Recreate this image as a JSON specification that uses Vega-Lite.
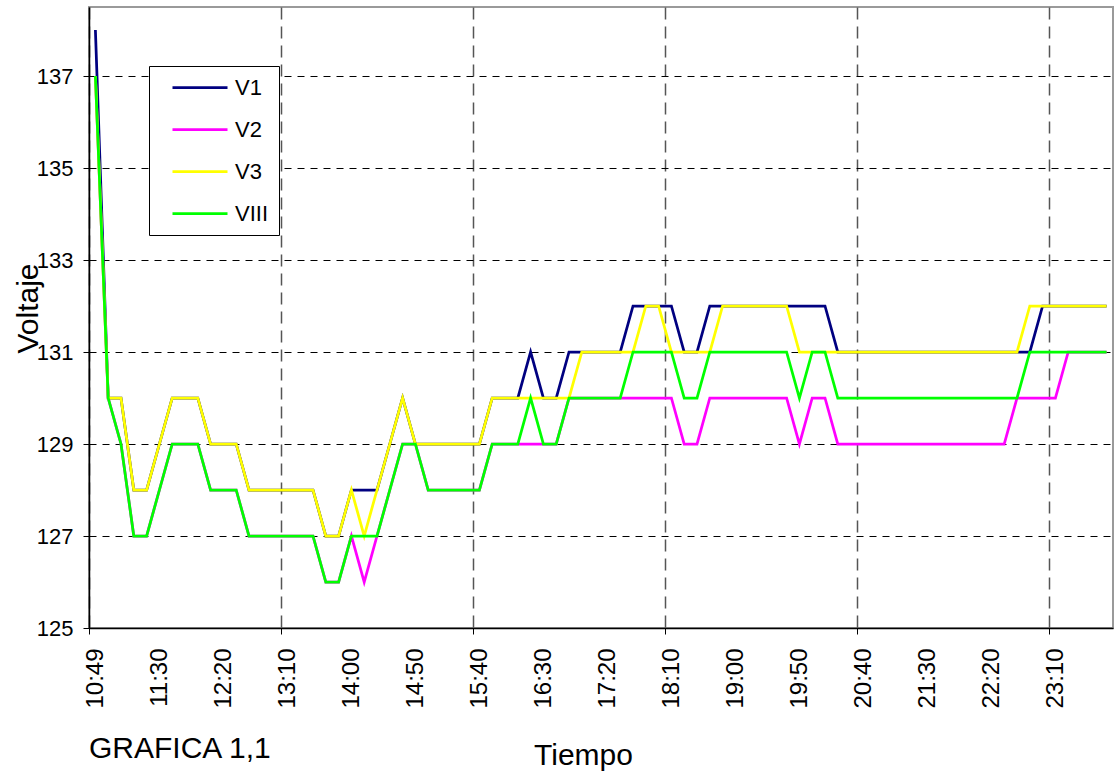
{
  "$schema": "https://vega.github.io/schema/vega-lite/v6.json",
  "width": 1024,
  "height": 621,
  "autosize": {"type": "none"},
  "padding": {"left": 89, "top": 7, "right": 2, "bottom": 152},
  "background": "white",
  "config": {"font": "Liberation Sans", "view": {"stroke": "#9a9a9a", "strokeWidth": 2}},
  "title": {"text": "GRAFICA 1,1", "orient": "bottom", "anchor": "start", "frame": "group", "fontSize": 30, "fontWeight": "normal", "color": "black", "font": "Liberation Sans", "offset": 0, "dy": -36},
  "data": {"values": [
    {"i":0,"hora":"10:49","V1":138,"V2":137,"V3":137,"VIII":137},
    {"i":1,"hora":"10:50","V1":130,"V2":130,"V3":130,"VIII":130},
    {"i":2,"hora":"11:00","V1":130,"V2":129,"V3":130,"VIII":129},
    {"i":3,"hora":"11:10","V1":128,"V2":127,"V3":128,"VIII":127},
    {"i":4,"hora":"11:20","V1":128,"V2":127,"V3":128,"VIII":127},
    {"i":5,"hora":"11:30","V1":129,"V2":128,"V3":129,"VIII":128},
    {"i":6,"hora":"11:40","V1":130,"V2":129,"V3":130,"VIII":129},
    {"i":7,"hora":"11:50","V1":130,"V2":129,"V3":130,"VIII":129},
    {"i":8,"hora":"12:00","V1":130,"V2":129,"V3":130,"VIII":129},
    {"i":9,"hora":"12:10","V1":129,"V2":128,"V3":129,"VIII":128},
    {"i":10,"hora":"12:20","V1":129,"V2":128,"V3":129,"VIII":128},
    {"i":11,"hora":"12:30","V1":129,"V2":128,"V3":129,"VIII":128},
    {"i":12,"hora":"12:40","V1":128,"V2":127,"V3":128,"VIII":127},
    {"i":13,"hora":"12:50","V1":128,"V2":127,"V3":128,"VIII":127},
    {"i":14,"hora":"13:00","V1":128,"V2":127,"V3":128,"VIII":127},
    {"i":15,"hora":"13:10","V1":128,"V2":127,"V3":128,"VIII":127},
    {"i":16,"hora":"13:20","V1":128,"V2":127,"V3":128,"VIII":127},
    {"i":17,"hora":"13:30","V1":128,"V2":127,"V3":128,"VIII":127},
    {"i":18,"hora":"13:40","V1":127,"V2":126,"V3":127,"VIII":126},
    {"i":19,"hora":"13:50","V1":127,"V2":126,"V3":127,"VIII":126},
    {"i":20,"hora":"14:00","V1":128,"V2":127,"V3":128,"VIII":127},
    {"i":21,"hora":"14:10","V1":128,"V2":126,"V3":127,"VIII":127},
    {"i":22,"hora":"14:20","V1":128,"V2":127,"V3":128,"VIII":127},
    {"i":23,"hora":"14:30","V1":129,"V2":128,"V3":129,"VIII":128},
    {"i":24,"hora":"14:40","V1":130,"V2":129,"V3":130,"VIII":129},
    {"i":25,"hora":"14:50","V1":129,"V2":129,"V3":129,"VIII":129},
    {"i":26,"hora":"15:00","V1":129,"V2":128,"V3":129,"VIII":128},
    {"i":27,"hora":"15:10","V1":129,"V2":128,"V3":129,"VIII":128},
    {"i":28,"hora":"15:20","V1":129,"V2":128,"V3":129,"VIII":128},
    {"i":29,"hora":"15:30","V1":129,"V2":128,"V3":129,"VIII":128},
    {"i":30,"hora":"15:40","V1":129,"V2":128,"V3":129,"VIII":128},
    {"i":31,"hora":"15:50","V1":130,"V2":129,"V3":130,"VIII":129},
    {"i":32,"hora":"16:00","V1":130,"V2":129,"V3":130,"VIII":129},
    {"i":33,"hora":"16:10","V1":130,"V2":129,"V3":130,"VIII":129},
    {"i":34,"hora":"16:20","V1":131,"V2":129,"V3":130,"VIII":130},
    {"i":35,"hora":"16:30","V1":130,"V2":129,"V3":130,"VIII":129},
    {"i":36,"hora":"16:40","V1":130,"V2":129,"V3":130,"VIII":129},
    {"i":37,"hora":"16:50","V1":131,"V2":130,"V3":130,"VIII":130},
    {"i":38,"hora":"17:00","V1":131,"V2":130,"V3":131,"VIII":130},
    {"i":39,"hora":"17:10","V1":131,"V2":130,"V3":131,"VIII":130},
    {"i":40,"hora":"17:20","V1":131,"V2":130,"V3":131,"VIII":130},
    {"i":41,"hora":"17:30","V1":131,"V2":130,"V3":131,"VIII":130},
    {"i":42,"hora":"17:40","V1":132,"V2":130,"V3":131,"VIII":131},
    {"i":43,"hora":"17:50","V1":132,"V2":130,"V3":132,"VIII":131},
    {"i":44,"hora":"18:00","V1":132,"V2":130,"V3":132,"VIII":131},
    {"i":45,"hora":"18:10","V1":132,"V2":130,"V3":131,"VIII":131},
    {"i":46,"hora":"18:20","V1":131,"V2":129,"V3":131,"VIII":130},
    {"i":47,"hora":"18:30","V1":131,"V2":129,"V3":131,"VIII":130},
    {"i":48,"hora":"18:40","V1":132,"V2":130,"V3":131,"VIII":131},
    {"i":49,"hora":"18:50","V1":132,"V2":130,"V3":132,"VIII":131},
    {"i":50,"hora":"19:00","V1":132,"V2":130,"V3":132,"VIII":131},
    {"i":51,"hora":"19:10","V1":132,"V2":130,"V3":132,"VIII":131},
    {"i":52,"hora":"19:20","V1":132,"V2":130,"V3":132,"VIII":131},
    {"i":53,"hora":"19:30","V1":132,"V2":130,"V3":132,"VIII":131},
    {"i":54,"hora":"19:40","V1":132,"V2":130,"V3":132,"VIII":131},
    {"i":55,"hora":"19:50","V1":132,"V2":129,"V3":131,"VIII":130},
    {"i":56,"hora":"20:00","V1":132,"V2":130,"V3":131,"VIII":131},
    {"i":57,"hora":"20:10","V1":132,"V2":130,"V3":131,"VIII":131},
    {"i":58,"hora":"20:20","V1":131,"V2":129,"V3":131,"VIII":130},
    {"i":59,"hora":"20:30","V1":131,"V2":129,"V3":131,"VIII":130},
    {"i":60,"hora":"20:40","V1":131,"V2":129,"V3":131,"VIII":130},
    {"i":61,"hora":"20:50","V1":131,"V2":129,"V3":131,"VIII":130},
    {"i":62,"hora":"21:00","V1":131,"V2":129,"V3":131,"VIII":130},
    {"i":63,"hora":"21:10","V1":131,"V2":129,"V3":131,"VIII":130},
    {"i":64,"hora":"21:20","V1":131,"V2":129,"V3":131,"VIII":130},
    {"i":65,"hora":"21:30","V1":131,"V2":129,"V3":131,"VIII":130},
    {"i":66,"hora":"21:40","V1":131,"V2":129,"V3":131,"VIII":130},
    {"i":67,"hora":"21:50","V1":131,"V2":129,"V3":131,"VIII":130},
    {"i":68,"hora":"22:00","V1":131,"V2":129,"V3":131,"VIII":130},
    {"i":69,"hora":"22:10","V1":131,"V2":129,"V3":131,"VIII":130},
    {"i":70,"hora":"22:20","V1":131,"V2":129,"V3":131,"VIII":130},
    {"i":71,"hora":"22:30","V1":131,"V2":129,"V3":131,"VIII":130},
    {"i":72,"hora":"22:40","V1":131,"V2":130,"V3":131,"VIII":130},
    {"i":73,"hora":"22:50","V1":131,"V2":130,"V3":132,"VIII":131},
    {"i":74,"hora":"23:00","V1":132,"V2":130,"V3":132,"VIII":131},
    {"i":75,"hora":"23:10","V1":132,"V2":130,"V3":132,"VIII":131},
    {"i":76,"hora":"23:20","V1":132,"V2":131,"V3":132,"VIII":131},
    {"i":77,"hora":"23:30","V1":132,"V2":131,"V3":132,"VIII":131},
    {"i":78,"hora":"23:40","V1":132,"V2":131,"V3":132,"VIII":131},
    {"i":79,"hora":"23:50","V1":132,"V2":131,"V3":132,"VIII":131}
  ]},
  "transform": [{"fold": ["V1", "V2", "V3", "VIII"], "as": ["serie", "voltaje"]}],
  "mark": {"type": "line", "strokeWidth": 2.75},
  "encoding": {
    "x": {
      "field": "i", "type": "quantitative",
      "scale": {"domain": [-0.5, 79.5], "nice": false, "zero": false},
      "axis": {
        "title": "Tiempo", "titleFontSize": 30, "titleFontWeight": "normal", "titleColor": "black",
        "titleX": 494, "titleY": 112, "titleAlign": "center", "titleBaseline": "top",
        "values": [-0.5, 0, 5, 10, 14.5, 15, 20, 25, 29.5, 30, 35, 40, 44.5, 45, 50, 55, 59.5, 60, 65, 70, 74.5, 75],
        "labelExpr": "datum.value % 5 == 0 ? ['10:49','11:30','12:20','13:10','14:00','14:50','15:40','16:30','17:20','18:10','19:00','19:50','20:40','21:30','22:20','23:10'][datum.value / 5] : ''",
        "labelAngle": 270, "labelAlign": "right", "labelBaseline": "middle",
        "labelFontSize": 24, "labelColor": "black", "labelPadding": 14,
        "labelOverlap": false, "labelFlush": false, "labelBound": false,
        "tickSize": 6, "tickColor": "black", "tickWidth": 1,
        "tickOpacity": {"condition": {"test": "datum.value % 5 != 0", "value": 1}, "value": 0},
        "grid": true, "gridColor": "#555555", "gridDash": [12, 7], "gridWidth": 1.5,
        "gridOpacity": {"condition": {"test": "datum.value % 5 != 0", "value": 1}, "value": 0},
        "domainColor": "black", "domainWidth": 1.5
      }
    },
    "y": {
      "field": "voltaje", "type": "quantitative",
      "scale": {"domain": [125, 138.5], "nice": false, "zero": false},
      "axis": {
        "title": "Voltaje", "titleFontSize": 30, "titleFontWeight": "normal", "titleColor": "black",
        "titleX": -46, "titleY": 301, "titleAlign": "center", "titleAngle": 270, "titleBaseline": "bottom",
        "values": [125, 127, 129, 131, 133, 135, 137],
        "labelFontSize": 22, "labelColor": "black", "labelPadding": 10,
        "tickSize": 6, "tickColor": "black",
        "grid": true, "gridColor": "black", "gridDash": [7, 6], "gridWidth": 1,
        "domainColor": "black", "domainWidth": 1.5
      }
    },
    "color": {
      "field": "serie", "type": "nominal",
      "scale": {"domain": ["V1", "V2", "V3", "VIII"], "range": ["#000080", "#FF00FF", "#FFFF00", "#00FF00"]},
      "legend": {
        "title": null, "orient": "none", "legendX": 60, "legendY": 59, "direction": "vertical",
        "padding": 10, "strokeColor": "black", "fillColor": "white",
        "symbolType": "M-1,0M0.2,0H5.7", "symbolSize": 400, "symbolStrokeWidth": 2.75,
        "labelFontSize": 22, "labelColor": "black", "labelOffset": 53, "rowPadding": 19, "labelBaseline": "middle"
      }
    }
  }
}
